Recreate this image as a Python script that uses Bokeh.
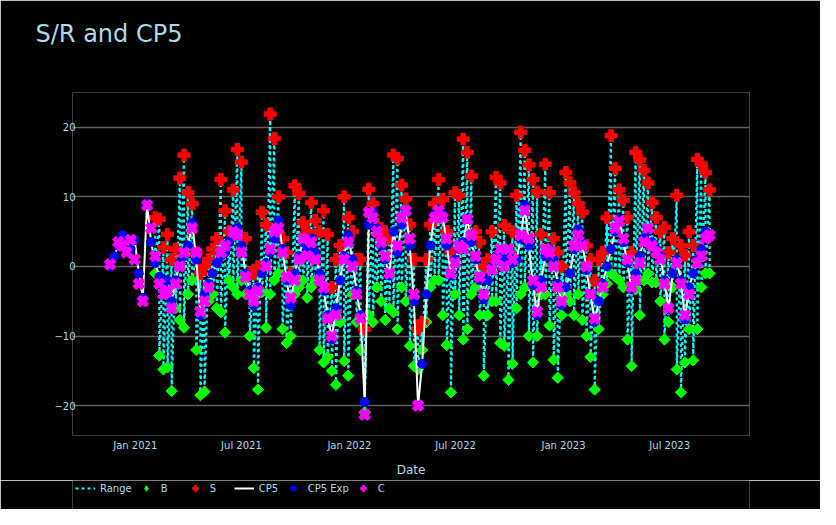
import datetime
import numpy as np
import pandas as pd
from bokeh.plotting import figure
from bokeh.layouts import column
from bokeh.models import (Range1d, FixedTicker, MonthsTicker, DatetimeTickFormatter,
                          CustomJSTickFormatter, Legend, LegendItem, Title)
from bokeh.embed import file_html
from bokeh.resources import INLINE

# ---------------- data (weekly) ----------------
start_date = "2020-11-19"

cp5 = [0.0, 1.5, 3.0, 4.5, 3.5, 2.5, 3.8, -1.0, -4.5, 9.0,
       3.5, 0.5, -1.5, -3.0, -2.0, -5.0, -2.0, 0.5, 1.5, 3.0,
       6.3, 1.0, -7.0, -4.0, -2.5, -1.0, 0.5, 1.5, 2.0, 3.5,
       4.5, 5.6, 3.0, -1.0, -3.5, -5.6, -3.0, -1.0, 0.5, 2.0,
       4.0, 6.6, 2.5, -2.0, -5.6, -1.0, 1.5, 3.5, 2.5, 4.0,
       2.0, -1.0, -3.5, -7.0, -10.5, -6.0, -2.0, 1.5, 4.5, 1.0,
       -3.5, -7.0, -19.5, 6.0, 7.8, 5.5, 3.0, 1.0, -1.3, 5.0,
       2.0, 6.0, 8.0, 3.0, -5.0, -20.0, -14.0, -4.0, 3.0, 7.5,
       8.2, 7.5, 3.0, -1.3, 1.0, 2.5, 3.5, 6.8, 3.5, 1.0,
       -2.0, -4.7, -2.0, 0.0, 1.5, 2.0, 1.0, 1.5, 0.5, 1.0,
       4.0, 8.8, 3.0, -2.7, -7.0, -2.0, 1.5, 2.5, 1.0, -2.5,
       -5.6, -3.0, -1.0, 2.5, 5.3, 3.5, -0.5, -4.0, -8.0, -5.0,
       -2.5, 0.0, 2.5, 5.0, 6.8, 3.5, 0.5, -3.3, -1.0, 1.5,
       4.0, 5.0, 3.5, 2.5, 1.5, -2.0, -6.2, -1.0, 1.0, -2.0,
       -7.6, -3.0, -1.0, 1.0, 2.5, 5.0, 4.5]

s_vals = [None, None, None, None, None, None, None, None, None, None,
          None, 7.0, 6.8, 2.7, 4.6, 1.0, 2.5, 12.7, 16.0, 10.6,
          9.0, 2.0, -1.0, 0.0, 1.0, 2.5, 4.0, 12.5, 8.0, 5.0,
          11.0, 16.8, 15.0, 4.0, -1.0, -1.0, 0.0, 7.8, 6.0, 21.9,
          18.4, 10.0, 4.0, 2.0, -1.0, 11.6, 10.5, 6.3, 5.0, 9.2,
          6.6, 5.0, 8.0, 4.6, -3.0, 1.0, 3.0, 10.0, 7.0, 5.0,
          1.0, 1.0, -9.0, 11.1, 9.0, 6.0, 4.5, 5.0, 4.0, 16.0,
          15.5, 11.7, 9.7, 6.0, 1.0, -9.0, -8.0, 1.0, 6.0, 9.0,
          12.5, 9.6, 5.0, 2.0, 10.6, 10.2, 18.3, 16.4, 13.0, 5.0,
          3.5, 0.0, 1.0, 5.0, 12.8, 12.0, 5.9, 2.0, 5.0, 10.2,
          19.3, 16.7, 14.6, 12.5, 10.7, 4.6, 14.7, 10.6, 4.0, 2.0,
          0.0, 13.5, 12.0, 10.6, 9.0, 7.8, 3.0, 1.0, -2.0, 1.0,
          2.0, 7.0, 18.8, 14.1, 11.0, 9.5, 7.0, 2.0, 16.4, 15.3,
          13.8, 12.0, 9.2, 7.0, 5.0, 5.6, 2.0, 4.0, 10.2, 3.0,
          1.6, 5.0, 3.0, 15.4, 14.7, 13.5, 11.0]

b_vals = [None, None, None, None, None, None, None, None, None, None,
          None, -1.0, -12.8, -14.8, -14.5, -17.9, -6.0, -7.7, -8.8, -4.0,
          -2.0, -12.0, -18.5, -18.0, -5.0, -4.0, -6.0, -6.6, -9.5, -2.0,
          -3.0, -4.0, -2.0, -4.0, -10.0, -14.6, -17.7, -3.7, -8.8, -4.0,
          -2.0, -1.0, -9.0, -11.0, -10.0, -4.0, -3.0, -2.0, -4.5, -3.0,
          -2.0, -12.0, -13.8, -13.0, -15.0, -17.0, -8.0, -13.6, -15.7, -4.0,
          -8.0, -12.0, -21.0, -7.0, -8.0, -3.0, -5.0, -7.7, -6.0, -6.6,
          -9.0, -3.0, -5.0, -11.4, -14.3, -14.8, -12.0, -8.0, -3.0, -2.0,
          -2.0, -7.0, -11.3, -18.1, -4.0, -7.0, -10.5, -9.0, -4.0, -3.0,
          -7.0, -15.7, -7.0, -5.0, -5.0, -11.0, -11.4, -16.3, -14.0, -6.0,
          -4.0, -3.0, -10.0, -13.8, -10.0, -4.0, -4.0, -8.5, -13.4, -16.0,
          -7.0, -4.0, -5.0, -7.0, -4.0, -7.7, -10.0, -13.0, -17.7, -9.0,
          -4.0, -2.5, -1.0, -1.5, -2.0, -3.0, -10.5, -14.3, -3.3, -7.0,
          -2.0, -1.0, -2.3, -2.3, -5.0, -10.5, -8.0, -3.0, -14.8, -18.1,
          -13.8, -9.0, -13.5, -9.0, -3.0, -1.0, -1.0]

c_vals = [0.3, None, 3.5, 3.0, 2.0, 3.8, 1.0, -2.5, -5.0, 8.8,
          5.5, 1.5, -2.5, -4.0, -3.5, -6.0, -2.5, 0.0, 2.0, None,
          5.5, 2.0, -6.5, -5.0, -3.0, None, None, 2.0, 3.0, None,
          5.0, 4.5, 2.0, -1.5, -4.0, -5.0, -3.5, None, 0.0, 2.5,
          5.0, 5.5, 2.0, -1.5, -4.5, -2.0, 1.0, 4.0, 1.5, 3.5,
          1.0, -2.0, -3.0, -7.5, -10.0, -7.0, None, 1.0, 3.5, 0.0,
          -4.0, -7.5, -21.3, 7.8, 7.0, 5.0, 3.5, 1.5, -1.0, None,
          3.0, 7.0, 8.0, 4.0, -4.0, -20.0, None, None, None, 7.0,
          8.0, 7.0, 4.0, -1.0, 0.5, 3.0, 2.5, 6.8, 4.5, 1.5,
          -1.5, -4.0, None, -0.5, 1.0, 2.5, 0.0, 2.5, 1.0, None,
          4.5, 8.0, 4.0, -2.0, -6.5, -3.0, 2.5, 2.0, 0.0, -3.0,
          -5.0, None, None, 3.0, 4.5, 3.0, 0.0, -4.0, -7.5, None,
          -3.0, None, None, 5.5, 6.5, 4.0, 1.0, -3.0, -2.0, 0.5,
          3.5, 5.5, 3.0, 2.0, 1.0, -2.5, -6.0, None, 0.5, -2.5,
          -7.0, -4.0, None, 0.5, 1.5, 4.0, 4.5]

y_ticks = [-20, -10, 0, 10, 20]
legend_labels = ["Range", "B", "S", "CP5", "CP5 Exp", "C"]
title_text = "S/R and CP5"

# ---------------- build ----------------
dates = pd.date_range(start_date, periods=len(cp5), freq="7D")
cp5_a = np.array(cp5, dtype=float)
s_a = np.array(s_vals, dtype=float)
b_a = np.array(b_vals, dtype=float)
c_a = np.array(c_vals, dtype=float)

range_x = np.repeat(dates.values, 2)
range_y = np.column_stack([s_a, b_a]).ravel()

TXT = "#add8e6"
FONT = "DejaVu Sans"

STYLES = {
    "Range": dict(kind="line", line_color="#00ffff", line_width=2.2, line_dash="3 3"),
    "B": dict(kind="scatter", marker="square", angle=np.pi / 4, size=8,
              fill_color="#00ff00", line_color="#00ff00"),
    "S": dict(kind="scatter", marker="plus", size=12, fill_color="#ff0000", line_color="#ff0000"),
    "CP5": dict(kind="line", line_color="white", line_width=2),
    "CP5 Exp": dict(kind="scatter", marker="circle", size=9, fill_color="#0000ff", line_color="#0000ff"),
    "C": dict(kind="scatter", marker="plus", angle=np.pi / 4, size=12,
              fill_color="#ff00ff", line_color="#ff00ff"),
}
# legend swatches: same look, diamond drawn directly (legend ignores marker angle)
LEGEND_OVERRIDES = {"B": dict(marker="diamond", angle=0.0)}


def draw(fig, name, x, y, legend_only=False):
    st = dict(STYLES[name])
    if legend_only:
        st.update(LEGEND_OVERRIDES.get(name, {}))
    kind = st.pop("kind")
    if kind == "line":
        return fig.line(x, y, **st)
    return fig.scatter(x, y, **st)


p = figure(width=820, height=480, x_axis_type="datetime", title=None,
           output_backend="svg", toolbar_location=None,
           x_range=Range1d(datetime.datetime(2020, 9, 16), datetime.datetime(2023, 11, 14)),
           y_range=Range1d(-24.3, 25.0),
           min_border_left=72, min_border_right=71, min_border_top=92, min_border_bottom=45,
           background_fill_color="black", border_fill_color="black",
           outline_line_color=None)

draw(p, "Range", range_x, range_y)
draw(p, "B", dates, b_a)
draw(p, "S", dates, s_a)
draw(p, "CP5", dates, cp5_a)
draw(p, "CP5 Exp", dates, cp5_a)
draw(p, "C", dates, c_a)

# spacer panel (closest to the frame), then the real title above it
spacer = Title(text=" ", text_font_size="10px", standoff=32, text_color="black")
p.add_layout(spacer, "above")
main_title = Title(text=title_text, text_color=TXT, text_font=FONT, text_font_size="24px",
                   text_font_style="normal", align="left", offset=-37, standoff=0)
p.add_layout(main_title, "above")

p.xaxis.ticker = MonthsTicker(months=[0, 6])
p.xaxis.formatter = DatetimeTickFormatter(months="%b %Y", years="%b %Y")
p.xaxis.axis_label = "Date"
p.xaxis.axis_label_text_font_style = "normal"
p.xaxis.axis_label_text_font_size = "12px"
p.xaxis.axis_label_standoff = 9
p.xaxis.major_label_standoff = 4

p.yaxis.ticker = FixedTicker(ticks=y_ticks)
p.yaxis.formatter = CustomJSTickFormatter(code="return (tick < 0 ? '\\u2212' : '') + Math.abs(tick);")
p.yaxis.major_label_standoff = -3

for ax in (p.xaxis, p.yaxis):
    ax.axis_line_color = None
    ax.major_tick_line_color = None
    ax.minor_tick_line_color = None
    ax.major_tick_out = 0
    ax.major_tick_in = 0
    ax.minor_tick_out = 0
    ax.major_label_text_color = TXT
    ax.major_label_text_font = FONT
    ax.major_label_text_font_size = "10px"
    ax.axis_label_text_color = TXT
    ax.axis_label_text_font = FONT

p.xgrid.grid_line_color = None
p.ygrid.grid_line_color = "#606060"
p.ygrid.grid_line_width = 1.5

# ---------------- legend strip below the chart ----------------
lg = figure(width=820, height=29, output_backend="svg", toolbar_location=None,
            x_range=Range1d(0, 1), y_range=Range1d(0, 1), min_border=0,
            background_fill_color="black", border_fill_color="black",
            outline_line_color=None)
lg.axis.visible = False
lg.grid.visible = False
legend_renderers = [draw(lg, name, [np.nan], [np.nan], legend_only=True) for name in legend_labels]

legend = Legend(items=[LegendItem(label=lab, renderers=[r]) for lab, r in
                       zip(legend_labels, legend_renderers)],
                orientation="horizontal", location=(3, 14),
                background_fill_alpha=0, border_line_color=None,
                label_text_color=TXT, label_text_font=FONT, label_text_font_size="10px",
                glyph_width=20, glyph_height=14, label_height=14,
                padding=2, margin=0, spacing=4, label_standoff=5)
lg.add_layout(legend)

layout = column(p, lg)
open("out.html", "w").write(file_html(layout, INLINE))
